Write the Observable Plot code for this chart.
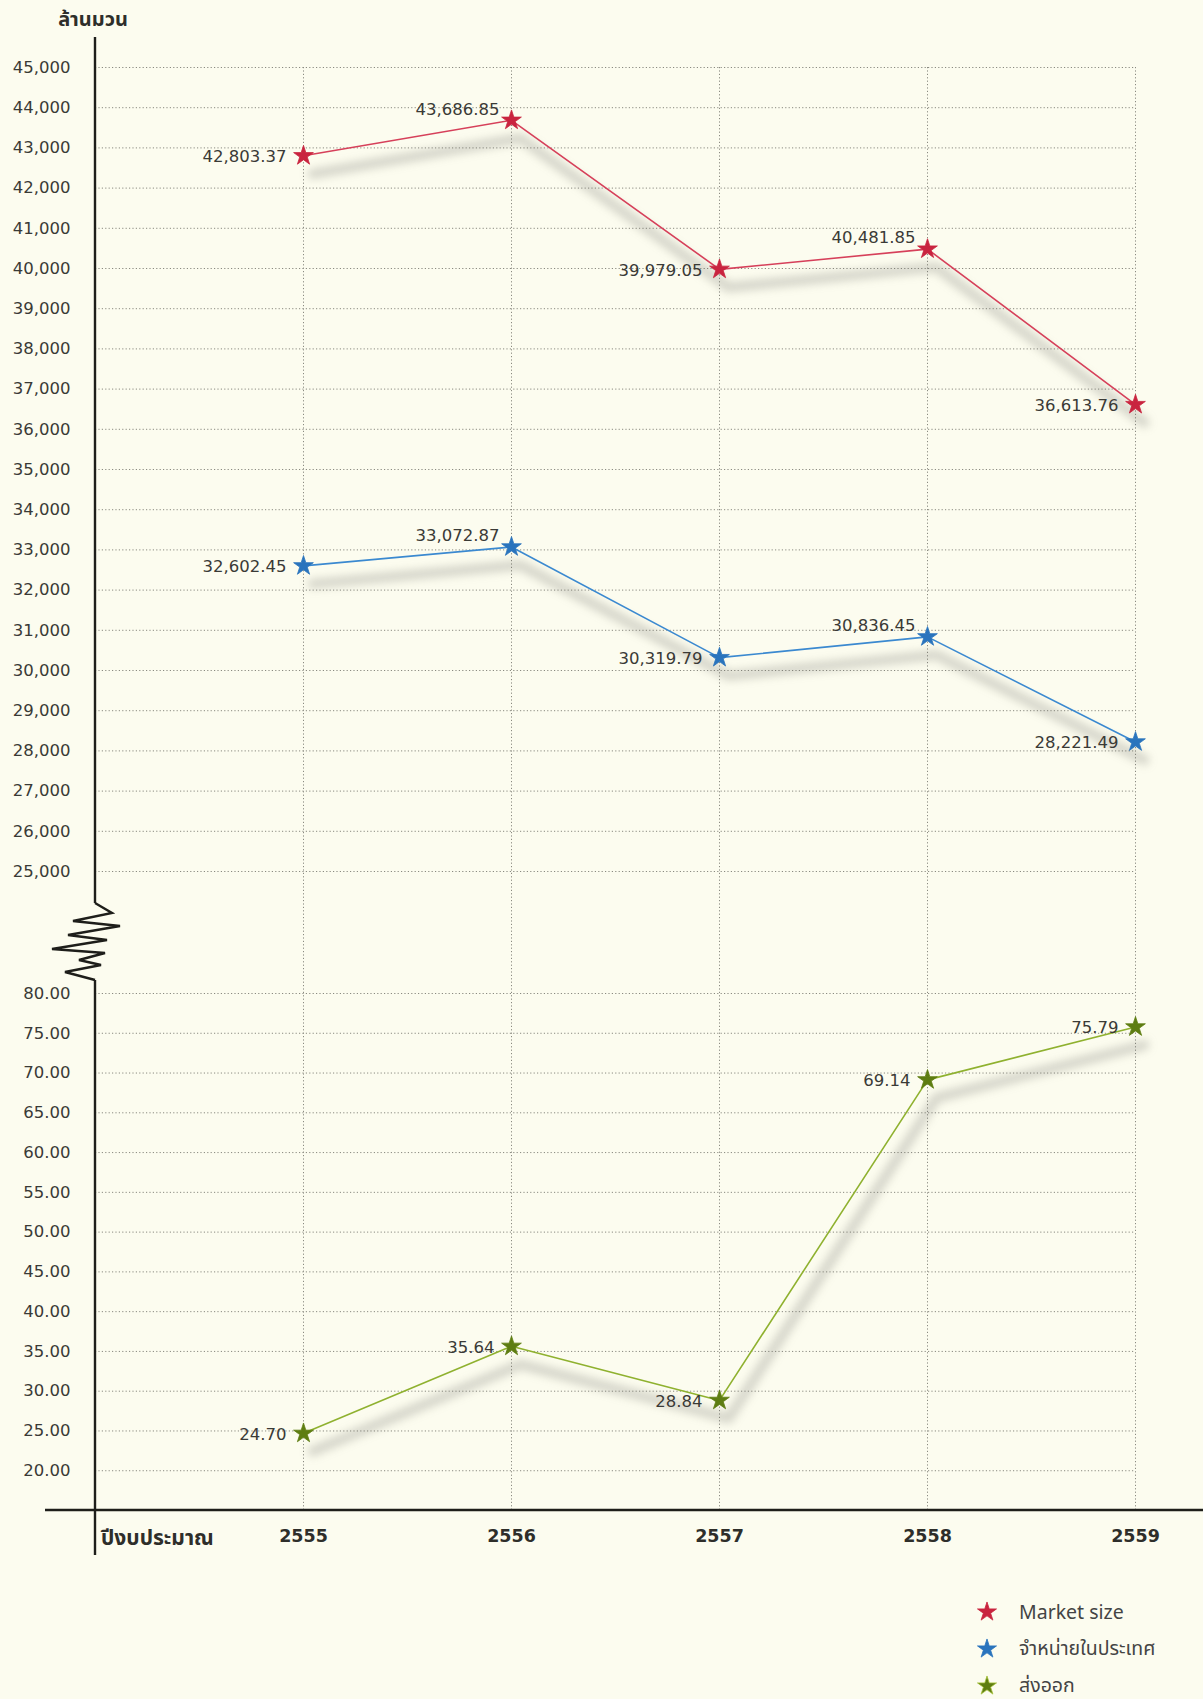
<!DOCTYPE html>
<html>
<head>
<meta charset="utf-8">
<script src="https://cdn.jsdelivr.net/npm/d3@7"></script>
<script src="https://cdn.jsdelivr.net/npm/@observablehq/plot@0.6"></script>
<style>
  html, body { margin: 0; padding: 0; background: #fcfcef; }
  #chart { position: relative; width: 1203px; height: 1699px; }
  #chart svg { display: block; overflow: visible; }
  #legend { margin-left: 977px; margin-top: 13px; font-family: "Noto Sans", "Noto Sans Thai", "Open Sans", sans-serif; font-size: 19.5px; color: #444; }
  #legend .item { display: flex; align-items: center; height: 37px; }
  #legend .item svg { margin-right: 22px; }
</style>
</head>
<body>
<div id="chart"></div>
<script>
// ---- data ----
const years = [2555, 2556, 2557, 2558, 2559];
const marketSize = [42803.37, 43686.85, 39979.05, 40481.85, 36613.76];
const domestic = [32602.45, 33072.87, 30319.79, 30836.45, 28221.49];
const exportValues = [24.70, 35.64, 28.84, 69.14, 75.79];
const seriesNames = ["Market size", "จำหน่ายในประเทศ", "ส่งออก"];
const upperTicks = [25000, 26000, 27000, 28000, 29000, 30000, 31000, 32000, 33000, 34000, 35000,
                    36000, 37000, 38000, 39000, 40000, 41000, 42000, 43000, 44000, 45000];
const lowerTicks = [20, 25, 30, 35, 40, 45, 50, 55, 60, 65, 70, 75, 80];
const yAxisTitle = "ล้านมวน";
const xAxisTitle = "ปีงบประมาณ";

// ---- styles (kept separate from data) ----
const lineColors = ["#d6405a", "#3b89d0", "#8fb12f"];
const starColors = ["#c9243f", "#2a74bd", "#5e7d12"];
const labelPlacement = [
  ["left", "above", "left", "above", "left"],
  ["left", "above", "left", "above", "left"],
  ["left", "left", "left", "left", "left"]
];

const seriesValues = [marketSize, domestic, exportValues];
const rows = seriesValues.flatMap((vals, s) =>
  years.map((yr, i) => ({year: yr, value: vals[i], series: seriesNames[s], s, pos: labelPlacement[s][i]}))
);

const W = 1203, H = 1580;
const fmtTick = d => d >= 1000 ? d3.format(",")(d) : d3.format(".2f")(d);
const fmtLabel = d => d >= 1000 ? d3.format(",.2f")(d) : d3.format(".2f")(d);

const marks = [
  Plot.gridY([...lowerTicks, ...upperTicks], {stroke: "#8a8a80", strokeOpacity: 1, strokeWidth: 1, strokeDasharray: "1.2,2.2"}),
  Plot.gridX(years, {stroke: "#8a8a80", strokeOpacity: 1, strokeWidth: 1, strokeDasharray: "1.2,2.2"}),
  Plot.axisY([...lowerTicks, ...upperTicks], {label: null, tickSize: 0, tickPadding: 25, tickFormat: fmtTick, fontSize: 16.5, fill: "#3a3a36"}),
  Plot.axisX(years, {label: null, tickSize: 0, tickPadding: 19, tickFormat: d => String(d), fontSize: 17.5, fontWeight: "bold", fill: "#2e2e2a"})
];
seriesValues.forEach((vals, s) => {
  const d = rows.filter(r => r.s === s);
  marks.push(Plot.line(d, {x: "year", y: "value", dx: 9, dy: 18, stroke: "#6a6a62", strokeWidth: 10, strokeOpacity: 0.26,
    strokeLinecap: "round", strokeLinejoin: "round", ariaDescription: "shadow"}));
});
seriesValues.forEach((vals, s) => {
  const d = rows.filter(r => r.s === s);
  marks.push(Plot.line(d, {x: "year", y: "value", stroke: lineColors[s], strokeWidth: 1.6}));
  marks.push(Plot.dot(d, {x: "year", y: "value", symbol: "star", r: 6.2, fill: starColors[s], stroke: starColors[s], strokeWidth: 0.8}));
  marks.push(Plot.text(d.filter(r => r.pos === "left"), {x: "year", y: "value", text: r => fmtLabel(r.value),
    textAnchor: "end", dx: -17, dy: 1, fontSize: 16.5, fill: "#3a3a36"}));
  marks.push(Plot.text(d.filter(r => r.pos === "above"), {x: "year", y: "value", text: r => fmtLabel(r.value),
    textAnchor: "end", dx: -12, dy: -11, fontSize: 16.5, fill: "#3a3a36"}));
});

const plot = Plot.plot({
  width: W,
  height: H,
  marginLeft: 95,
  marginRight: 68,
  marginTop: 67,
  marginBottom: 70,
  style: {background: "transparent", fontFamily: "'DejaVu Sans', sans-serif", fontSize: "16px", color: "#3a3a36", overflow: "visible"},
  x: {type: "linear", domain: [2554, 2559], axis: null, label: null},
  y: {type: "linear", domain: [15, 80, 25000, 45000], range: [1510, 993, 871, 67], axis: null, label: null},
  marks
});
document.getElementById("chart").appendChild(plot);

// ---- decorations derived from the scales ----
const svg = d3.select(plot);
svg.selectAll('g[aria-description="shadow"]').style("filter", "blur(4px)");
const xs = plot.scale("x"), ys = plot.scale("y");
const ax = xs.apply(xs.domain[0]);
const ay = ys.apply(ys.domain[0]);
const breakTop = ys.apply(25000) + 32;
const breakBottom = ys.apply(80) - 13;
const deco = svg.append("g").attr("fill", "none").attr("stroke", "#1e1e1a").attr("stroke-width", 2.4).attr("stroke-linejoin", "miter");
// x axis line
deco.append("line").attr("x1", ax - 50).attr("x2", W).attr("y1", ay).attr("y2", ay);
// y axis line upper part
deco.append("line").attr("x1", ax).attr("x2", ax).attr("y1", ys.apply(45000) - 30).attr("y2", breakTop);
// zigzag break
const zig = [[0,0],[17,10],[-22,18],[25,23],[-27,32],[12,37],[-43,46],[10,50],[-16,57],[6,62],[-30,69],[0,77]];
const zh = breakBottom - breakTop;
deco.append("path").attr("d", d3.line()(zig.map(([dx, dy]) => [ax + dx, breakTop + dy * zh / 77])));
// y axis line lower part
deco.append("line").attr("x1", ax).attr("x2", ax).attr("y1", breakBottom).attr("y2", ay + 45);
// axis titles
svg.append("text").attr("x", ax - 2).attr("y", 26).attr("text-anchor", "middle")
  .attr("font-family", "'Noto Sans', 'Noto Sans Thai', sans-serif").attr("font-weight", "bold").attr("font-size", 20)
  .attr("fill", "#2e2e2a").text(yAxisTitle);
svg.append("text").attr("x", ax + 6).attr("y", ay + 27).attr("text-anchor", "start").attr("dominant-baseline", "central")
  .attr("font-family", "'Noto Sans', 'Noto Sans Thai', sans-serif").attr("font-weight", "bold").attr("font-size", 21)
  .attr("fill", "#2e2e2a").text(xAxisTitle);

// ---- legend below the chart ----
const legend = d3.select("#chart").append("div").attr("id", "legend");
seriesNames.forEach((name, s) => {
  const item = legend.append("div").attr("class", "item");
  const sv = item.append("svg").attr("width", 20).attr("height", 20).attr("viewBox", "-10 -10 20 20");
  sv.append("path").attr("d", d3.symbol(d3.symbolStar, Math.PI * 36)()).attr("fill", starColors[s])
    .attr("stroke", s === 2 ? "#a6c23a" : starColors[s]).attr("stroke-width", 0.8);
  item.append("span").text(name);
});
</script>
</body>
</html>
